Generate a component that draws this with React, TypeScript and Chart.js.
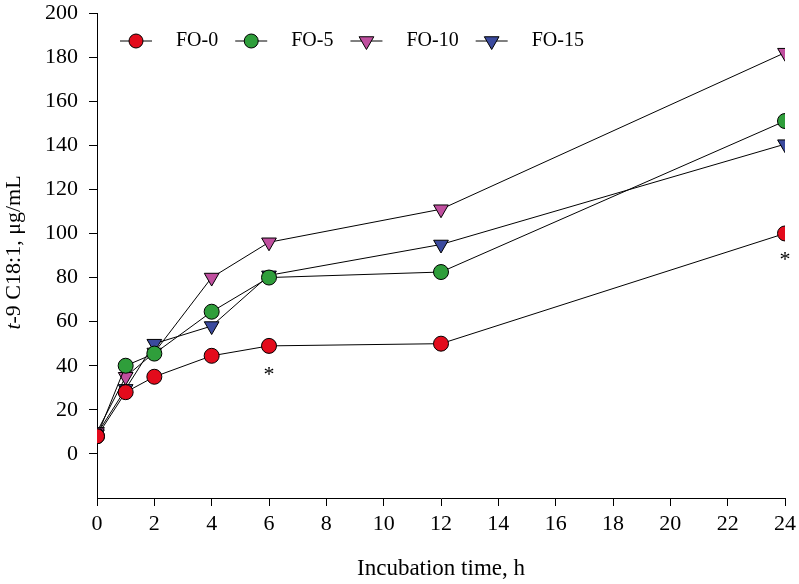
import React, { useEffect, useRef } from 'react';
import { Chart, registerables } from 'chart.js';

Chart.register(...registerables);

const hours = [0, 1, 2, 4, 6, 12, 24];
const fo0 = [8, 28, 35, 44.5, 49, 50, 100];
const fo5 = [8, 40, 45.5, 64.5, 80, 82.5, 151];
const fo10 = [10, 35, 46, 80, 96, 111, 182];
const fo15 = [9, 29.5, 50, 58, 81, 95, 140.5];
const seriesNames = ['FO-0', 'FO-5', 'FO-10', 'FO-15'];
const seriesValues = [fo0, fo5, fo10, fo15];
const seriesColors = ['#e30b1c', '#2f9e3b', '#c04f9f', '#3b4a9e'];
const seriesMarkers = ['circle', 'circle', 'triangle', 'triangle'];
const xTicks = [0, 2, 4, 6, 8, 10, 12, 14, 16, 18, 20, 22, 24];
const yTicks = [-20, 0, 20, 40, 60, 80, 100, 120, 140, 160, 180, 200];
const asteriskX = [6, 24];
const asteriskY = [37, 89];
const xTitle = 'Incubation time, h';
const yTitleItalic = 't';
const yTitleRest = '-9 C18:1, \u03bcg/mL';

const FONT = "'Liberation Serif', 'Times New Roman', serif";

Chart.defaults.font.family = FONT;
Chart.defaults.font.size = 22;
Chart.defaults.color = '#000';

function drawMarker(ctx: CanvasRenderingContext2D, style: string, x: number, y: number, color: string) {
  ctx.save();
  ctx.fillStyle = color;
  ctx.strokeStyle = '#000';
  ctx.lineWidth = 1;
  ctx.beginPath();
  if (style === 'circle') {
    ctx.arc(x, y, 7, 0, Math.PI * 2);
  } else {
    const r = 8.5;
    ctx.moveTo(x, y + r);
    ctx.lineTo(x - r * Math.sqrt(3) / 2, y - r / 2);
    ctx.lineTo(x + r * Math.sqrt(3) / 2, y - r / 2);
    ctx.closePath();
  }
  ctx.fill();
  ctx.stroke();
  ctx.restore();
}

const decorPlugin = {
  id: 'decor',
  afterDraw(chart: any) {
    const ctx: CanvasRenderingContext2D = chart.ctx;
    const xs = chart.scales.x;
    const ys = chart.scales.y;
    const area = chart.chartArea;
    ctx.save();
    // asterisks
    ctx.fillStyle = '#000';
    ctx.font = `22px ${FONT}`;
    ctx.textAlign = 'center';
    ctx.textBaseline = 'middle';
    asteriskX.forEach((xv, i) => {
      ctx.fillText('*', xs.getPixelForValue(xv), ys.getPixelForValue(asteriskY[i]) + 3);
    });
    // legend
    let lx = 120;
    const ly = 41;
    seriesNames.forEach((name, i) => {
      ctx.strokeStyle = '#000';
      ctx.lineWidth = 1;
      ctx.beginPath();
      ctx.moveTo(lx, ly);
      ctx.lineTo(lx + 32, ly);
      ctx.stroke();
      drawMarker(ctx, seriesMarkers[i], lx + 16, ly, seriesColors[i]);
      ctx.fillStyle = '#000';
      ctx.font = `20px ${FONT}`;
      ctx.textAlign = 'left';
      ctx.textBaseline = 'middle';
      const tx = lx + 56;
      ctx.fillText(name, tx, ly);
      lx = tx + ctx.measureText(name).width + 17;
    });
    // x title
    ctx.font = `23px ${FONT}`;
    ctx.textAlign = 'center';
    ctx.textBaseline = 'middle';
    ctx.fillText(xTitle, (area.left + area.right) / 2, 569);
    // y title
    ctx.translate(14, (area.top + area.bottom) / 2 - 3);
    ctx.rotate(-Math.PI / 2);
    ctx.textAlign = 'left';
    ctx.font = `italic 22px ${FONT}`;
    const w1 = ctx.measureText(yTitleItalic).width;
    ctx.font = `22px ${FONT}`;
    const w2 = ctx.measureText(yTitleRest).width;
    const start = -(w1 + w2) / 2;
    ctx.font = `italic 22px ${FONT}`;
    ctx.fillText(yTitleItalic, start, 0);
    ctx.font = `22px ${FONT}`;
    ctx.fillText(yTitleRest, start + w1, 0);
    ctx.restore();
  },
};

export default function App() {
  const ref = useRef<HTMLCanvasElement>(null);
  useEffect(() => {
    if (!ref.current) return;
    const chart = new Chart(ref.current, {
      type: 'line',
      data: {
        datasets: seriesNames.map((name, i) => ({
          label: name,
          data: hours.map((h, j) => ({ x: h, y: seriesValues[i][j] })),
          borderColor: '#000',
          borderWidth: 1,
          backgroundColor: seriesColors[i],
          pointBackgroundColor: seriesColors[i],
          pointBorderColor: '#000',
          pointBorderWidth: 1,
          pointStyle: seriesMarkers[i] as any,
          pointRotation: seriesMarkers[i] === 'triangle' ? 180 : 0,
          pointRadius: seriesMarkers[i] === 'triangle' ? 8.5 : 7.5,
          tension: 0,
          fill: false,
        })),
      },
      options: {
        responsive: false,
        animation: false,
        layout: { padding: { top: 13, right: 14, left: 0, bottom: 0 } },
        plugins: { legend: { display: false }, tooltip: { enabled: false } },
        scales: {
          x: {
            type: 'linear',
            min: 0,
            max: 24,
            afterBuildTicks: (s: any) => { s.ticks = xTicks.map((v) => ({ value: v })); },
            afterFit: (s: any) => {
              s.height = 86;
              s.paddingLeft = 0;
              s.paddingRight = 0;
            },
            ticks: { color: '#000', font: { family: FONT, size: 22 }, padding: 5, maxRotation: 0, autoSkip: false },
            grid: { drawOnChartArea: false, drawTicks: true, tickLength: 8, color: '#000', lineWidth: 1 },
            border: { display: true, color: '#000', width: 1 },
          },
          y: {
            type: 'linear',
            min: -20,
            max: 200,
            afterBuildTicks: (s: any) => { s.ticks = yTicks.map((v) => ({ value: v })); },
            afterFit: (s: any) => {
              s.width = 97;
              s.paddingTop = 0;
              s.paddingBottom = 0;
            },
            ticks: {
              color: '#000',
              font: { family: FONT, size: 22 },
              padding: 11,
              autoSkip: false,
              callback: (v: any) => (v < 0 ? '' : String(v)),
            },
            grid: {
              drawOnChartArea: false,
              drawTicks: true,
              tickLength: 8,
              lineWidth: 1,
              color: (c: any) => (c.tick && c.tick.value < 0 ? 'rgba(0,0,0,0)' : '#000'),
            },
            border: { display: true, color: '#000', width: 1 },
          },
        },
      },
      plugins: [decorPlugin],
    });
    return () => chart.destroy();
  }, []);
  return (
    <div style={{ position: 'absolute', left: 0, top: 0, width: 799, height: 584, background: '#fff' }}>
      <canvas ref={ref} width={799} height={584} />
    </div>
  );
}
